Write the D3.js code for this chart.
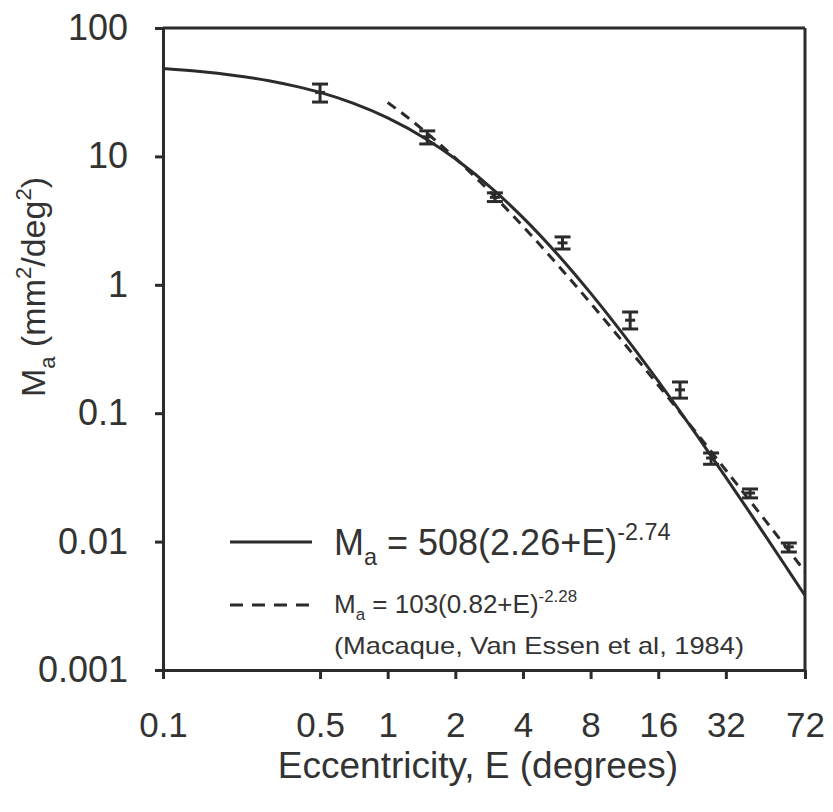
<!DOCTYPE html>
<html>
<head>
<meta charset="utf-8">
<script src="https://cdnjs.cloudflare.com/ajax/libs/d3/7.8.5/d3.min.js"></script>
<style>
    body { margin: 0; background: #fff; }
    svg text { font-family: "Liberation Sans", Arial, Helvetica, sans-serif; fill: #333; }
</style>
</head>
<body>
<svg id="chart" width="833" height="812"></svg>
<script>
// measured points: eccentricity (deg) and magnification with error range
var pointE = [0.5, 1.5, 3, 6, 12, 20, 27.5, 41, 61];
var pointMa = [31.5, 14.2, 4.8, 2.12, 0.53, 0.152, 0.0448, 0.0239, 0.0091];
var pointLo = [26.5, 12.5, 4.45, 1.90, 0.453, 0.131, 0.040, 0.0219, 0.0083];
var pointHi = [36.6, 15.8, 5.2, 2.36, 0.614, 0.175, 0.049, 0.0257, 0.00975];

// fitted curve
var fitE = [0.1, 0.15, 0.2, 0.3, 0.4, 0.5, 0.7, 1, 1.5, 2, 3, 4, 6, 8, 10, 12, 16, 20, 24, 32, 40, 48, 60, 72];
var fitMa = [48.3, 45.6, 43.1, 38.7, 34.8, 31.5, 25.97, 19.94, 13.49, 9.58, 5.376, 3.336, 1.561, 0.861,
    0.5289, 0.3496, 0.1776, 0.1033, 0.0656, 0.03167, 0.01782, 0.01108, 0.00616, 0.003805];

// macaque curve
var macE = [1, 1.2, 1.5, 2, 3, 4, 6, 8, 10, 12, 16, 20, 24, 32, 40, 48, 60, 72];
var macMa = [26.3, 20.73, 15.12, 9.69, 4.849, 2.855, 1.294, 0.7198, 0.4516, 0.3067, 0.1652, 0.1015,
    0.06808, 0.03596, 0.0219, 0.01455, 0.008818, 0.005847];

// tick values and labels
var xTicks = [0.1, 0.5, 1, 2, 4, 8, 16, 32, 72];
var xTickLabels = ['0.1', '0.5', '1', '2', '4', '8', '16', '32', '72'];
var yTicks = [0.001, 0.01, 0.1, 1, 10, 100];
var yTickLabels = ['0.001', '0.01', '0.1', '1', '10', '100'];

var ink = '#2b2b2b';
var svg = d3.select('#chart');

var x = d3.scaleLog().domain([0.1, 72]).range([163, 805]);
var y = d3.scaleLog().domain([0.001, 100]).range([670, 28]);

// write text with sub/superscripts; parts = [[text, 'sub'|'sup'|null], ...]
function richText(g, parts, size) {
    var t = g.append('text').style('font-size', size + 'px');
    var shift = 0;
    parts.forEach(function(p) {
        var target = p[1] === 'sub' ? size * 0.28 : (p[1] === 'sup' ? -size * 0.42 : 0);
        t.append('tspan')
            .attr('dy', target - shift)
            .style('font-size', p[1] ? (size * 0.65) + 'px' : size + 'px')
            .text(p[0]);
        shift = target;
    });
    return t;
}

// axes
var xAxis = d3.axisBottom(x)
    .tickValues(xTicks)
    .tickFormat(function(d, i) { return xTickLabels[i]; })
    .tickSize(9).tickSizeOuter(0).tickPadding(33);

var yAxis = d3.axisLeft(y)
    .tickValues(yTicks)
    .tickFormat(function(d, i) { return yTickLabels[i]; })
    .tickSize(8).tickSizeOuter(0).tickPadding(27);

var gx = svg.append('g').attr('transform', 'translate(0,' + y.range()[0] + ')').call(xAxis);
var gy = svg.append('g').attr('transform', 'translate(' + x.range()[0] + ',0)').call(yAxis);

[gx, gy].forEach(function(g) {
    g.select('.domain').attr('stroke', ink).attr('stroke-width', 3);
    g.selectAll('.tick line').attr('stroke', ink).attr('stroke-width', 3);
    g.selectAll('.tick text')
        .style('font-size', '35px')
        .style('font-family', '"Liberation Sans", Arial, sans-serif')
        .attr('fill', '#333');
});
gy.selectAll('.tick text').style('font-size', '36px');

// top and right frame
svg.append('line')
    .attr('x1', x.range()[0]).attr('x2', x.range()[1])
    .attr('y1', y.range()[1]).attr('y2', y.range()[1])
    .attr('stroke', ink).attr('stroke-width', 3);
svg.append('line')
    .attr('x1', x.range()[1]).attr('x2', x.range()[1])
    .attr('y1', y.range()[1]).attr('y2', y.range()[0])
    .attr('stroke', ink).attr('stroke-width', 3);

// curves
var line = d3.line()
    .x(function(d) { return x(d[0]); })
    .y(function(d) { return y(d[1]); })
    .curve(d3.curveMonotoneX);

svg.append('path')
    .datum(macE.map(function(e, i) { return [e, macMa[i]]; }))
    .attr('d', line)
    .attr('fill', 'none')
    .attr('stroke', ink)
    .attr('stroke-width', 3)
    .attr('stroke-dasharray', '10,7');

svg.append('path')
    .datum(fitE.map(function(e, i) { return [e, fitMa[i]]; }))
    .attr('d', line)
    .attr('fill', 'none')
    .attr('stroke', ink)
    .attr('stroke-width', 3);

// error bars
var bars = svg.append('g').attr('stroke', ink).attr('stroke-width', 3);
pointE.forEach(function(e, i) {
    var cx = x(e);
    bars.append('line').attr('x1', cx).attr('x2', cx).attr('y1', y(pointLo[i])).attr('y2', y(pointHi[i]));
    bars.append('line').attr('x1', cx - 8).attr('x2', cx + 8).attr('y1', y(pointLo[i])).attr('y2', y(pointLo[i]));
    bars.append('line').attr('x1', cx - 8).attr('x2', cx + 8).attr('y1', y(pointHi[i])).attr('y2', y(pointHi[i]));
    bars.append('line').attr('x1', cx - 5).attr('x2', cx + 5).attr('y1', y(pointMa[i])).attr('y2', y(pointMa[i]));
});

// legend
var legend = svg.append('g');
legend.append('line')
    .attr('x1', 230).attr('x2', 312).attr('y1', 542).attr('y2', 542)
    .attr('stroke', ink).attr('stroke-width', 3);
legend.append('line')
    .attr('x1', 230).attr('x2', 312).attr('y1', 605).attr('y2', 605)
    .attr('stroke', ink).attr('stroke-width', 3)
    .attr('stroke-dasharray', '13,9');

richText(legend, [['M', null], ['a', 'sub'], [' = 508(2.26+E)', null], ['-2.74', 'sup']], 36)
    .attr('x', 334).attr('y', 555);
richText(legend, [['M', null], ['a', 'sub'], [' = 103(0.82+E)', null], ['-2.28', 'sup']], 26)
    .attr('x', 334).attr('y', 613);
legend.append('text')
    .attr('x', 334).attr('y', 654)
    .style('font-size', '24px')
    .attr('textLength', 410)
    .attr('lengthAdjust', 'spacingAndGlyphs')
    .text('(Macaque, Van Essen et al, 1984)');

// axis titles
svg.append('text')
    .attr('x', 478).attr('y', 778)
    .attr('text-anchor', 'middle')
    .style('font-size', '37px')
    .text('Eccentricity, E (degrees)');

richText(svg.append('g').attr('transform', 'translate(45,287) rotate(-90)'),
    [['M', null], ['a', 'sub'], [' (mm', null], ['2', 'sup'], ['/deg', null], ['2', 'sup'], [')', null]], 34)
    .attr('text-anchor', 'middle');
</script>
</body>
</html>
